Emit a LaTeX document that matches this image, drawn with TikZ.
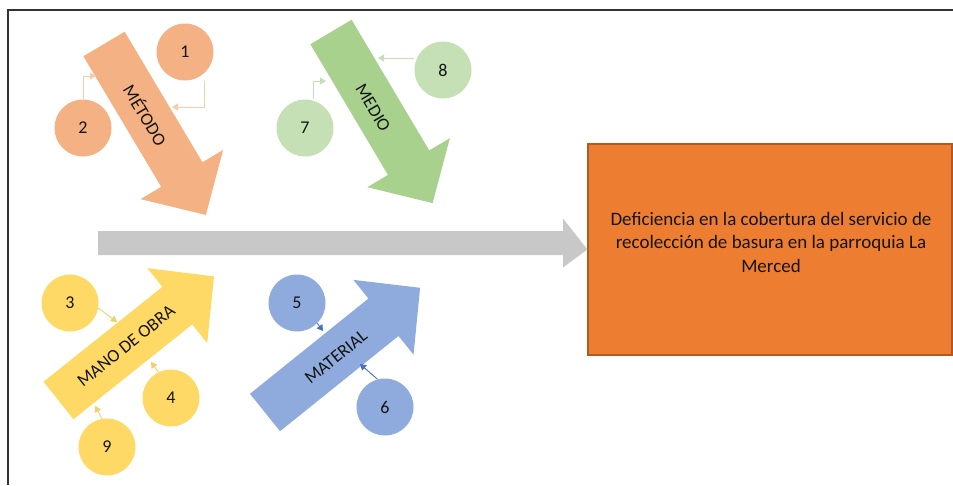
\documentclass[tikz,border=0pt]{standalone}
\usepackage{fontspec}
\setmainfont{Carlito}
\usetikzlibrary{arrows.meta,calc}
\definecolor{cMet}{HTML}{F4B183}
\definecolor{cMetL}{HTML}{F8CBAD}
\definecolor{cMed}{HTML}{A9D18E}
\definecolor{cMedL}{HTML}{C5E0B4}
\definecolor{cMan}{HTML}{FFD966}
\definecolor{cManL}{HTML}{F2CF6E}
\definecolor{cMat}{HTML}{8FAADC}
\definecolor{cMatD}{HTML}{4472C4}
\definecolor{cSpine}{HTML}{C8C8C8}
\definecolor{cBox}{HTML}{ED7D31}
\definecolor{cBoxD}{HTML}{AE5A21}
\definecolor{cText}{HTML}{141414}
\tikzset{
  causearrow/.pic={
    \fill[pic actions] (0,-24) -- (152,-24) -- (152,-48) -- (199,0) -- (152,48) -- (152,24) -- (0,24) -- cycle;
  },
  numcirc/.style={circle, minimum size=57pt, inner sep=0pt, text=cText, font=\fontsize{18}{20}\selectfont},
  armlabel/.style={text=cText, font=\fontsize{18}{20}\selectfont, inner sep=0pt},
  conn/.style={line width=0.9pt, -{Triangle[length=6pt,width=7pt]}},
}
\begin{document}
\begin{tikzpicture}[x=1pt,y=-1pt]
\useasboundingbox (0,0) rectangle (953,485);
\fill[white] (0,0) rectangle (953,485);
% frame
\draw[line width=2pt, black!80] (953,10) -- (8,10) -- (8,485);

% effect box and spine
\node[draw=cBoxD, fill=cBox, line width=1.2pt, minimum width=364pt, minimum height=211pt, inner sep=0pt] (effect) at (770,249.5) {};
\node[text=cText, align=center, font=\fontsize{19}{23.5}\selectfont] (efftext) at (771,242)
  {Deficiencia en la cobertura del servicio de\\recolección de basura en la parroquia La\\Merced};
\coordinate (spinestart) at (98,243);
\fill[cSpine] (spinestart) ++(0,-12) -- (563,231) -- (563,218.5) -- (effect.west) -- (563,267.5) -- (563,255) -- ($(spinestart)+(0,12)$) -- cycle;

% arms
\pic[rotate=-59.2, fill=cMet] at (104,44) {causearrow};
\pic[rotate=-59.3, fill=cMed] at (331,32) {causearrow};
\pic[rotate=38.6, fill=cMan] at (58.5,400.5) {causearrow};
\pic[rotate=38.8, fill=cMat] at (265,412.5) {causearrow};

\node[armlabel, rotate=-59.2] (lmet) at (146,115) {MÉTODO};
\node[armlabel, rotate=-59.3] (lmed) at (373,108) {MEDIO};
\node[armlabel, rotate=38.6] (lman) at (126,346) {MANO DE OBRA};
\node[armlabel, rotate=38.8] (lmat) at (336,357) {MATERIAL};

% circles
\node[numcirc, fill=cMet] (c1) at (185,52) {1};
\node[numcirc, fill=cMet] (c2) at (83,128) {2};
\node[numcirc, fill=cMedL] (c7) at (305,128) {7};
\node[numcirc, fill=cMedL] (c8) at (443,70) {8};
\node[numcirc, fill=cMan] (c3) at (70,303) {3};
\node[numcirc, fill=cMan] (c4) at (171,398) {4};
\node[numcirc, fill=cMan] (c9) at (107,447) {9};
\node[numcirc, fill=cMat] (c5) at (297,303) {5};
\node[numcirc, fill=cMat] (c6) at (385,407) {6};

% connector targets
\coordinate (t1) at (172,107);
\coordinate (t2) at (96,76);
\coordinate (t7) at (326,81);
\coordinate (t8) at (378,58);
\coordinate (t3) at (117,322);
\coordinate (t4) at (151,362);
\coordinate (t9) at (95,406);
\coordinate (t5) at (323,331);
\coordinate (t6) at (360,364);

% connectors
\draw[conn, cMetL] ($(c1.south)+(19,0)$) |- (t1);
\draw[conn, cMetL] (c2.north) |- (t2);
\draw[conn, cMedL] ($(c7.north)+(8,0)$) |- (t7);
\draw[conn, cMedL] (c8.west |- t8) -- (t8);
\draw[conn, cManL] (c3.-10) -- (t3);
\draw[conn, cManL] (c4.116) -- (t4);
\draw[conn, cManL] (c9.100) -- (t9);
\draw[conn, cMatD] (c5.-45) -- (t5);
\draw[conn, cMatD] (c6.105) -- (t6);
\end{tikzpicture}
\end{document}
